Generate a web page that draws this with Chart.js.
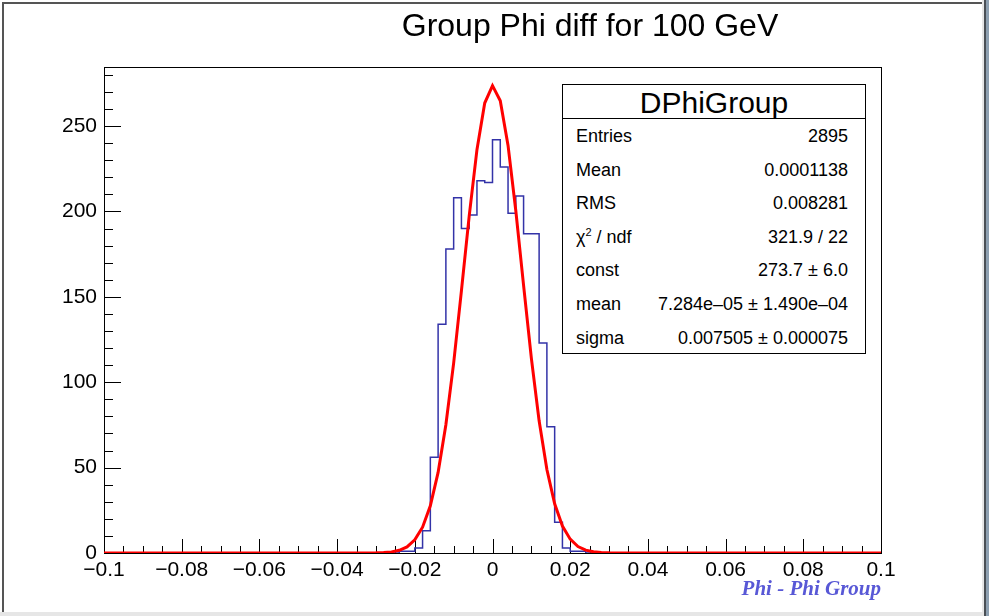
<!DOCTYPE html>
<html>
<head>
<meta charset="utf-8">
<title>Group Phi diff for 100 GeV</title>
<script src="https://cdn.jsdelivr.net/npm/chart.js@4"></script>
<style>
  body { margin: 0; background: #fff; }
  #wrap { position: relative; width: 989px; height: 616px; overflow: hidden; font-family: 'Liberation Sans', Arial, sans-serif; }
  #title { position: absolute; left: 390px; width: 400px; top: 9px; text-align: center; font-size: 32px; line-height: 32px; color: #000; }
  #stats { position: absolute; left: 562px; top: 84px; width: 302px; height: 268px; border: 1px solid #000; background: #fff; }
  #stats .head { height: 33px; border-bottom: 1px solid #000; text-align: center; font-size: 30px; line-height: 35px; }
  #stats .row { position: absolute; left: 13px; right: 17px; height: 20px; line-height: 20px; font-size: 18px; }
  #stats .row .v { position: absolute; right: 0; top: 0; }
  sup { font-size: 11px; vertical-align: 7px; line-height: 0; }
</style>
</head>
<body>
<div id="wrap">
  <canvas id="hist" width="989" height="616"></canvas>
  <div id="title">Group Phi diff for 100 GeV</div>
  <div id="stats"></div>
</div>
<script>
// DPhiGroup histogram (100 bins over -0.1..0.1, only the filled ones listed)
const binEdges = [-0.1, -0.024, -0.022, -0.020, -0.018, -0.016, -0.014, -0.012, -0.010, -0.008, -0.006, -0.004, -0.002,
  0, 0.002, 0.004, 0.006, 0.008, 0.010, 0.012, 0.014, 0.016, 0.018, 0.020, 0.022, 0.024, 0.1];
const binCounts = [0, 1, 1, 3, 13, 56, 134, 178, 208, 190, 198, 218, 217,
  242, 226, 199, 209, 187, 187, 123, 74, 18, 3, 1, 1, 0];

// gaussian fit curve
const fitX = [-0.1, -0.030, -0.028, -0.026, -0.024, -0.022, -0.020, -0.018, -0.016, -0.014, -0.012, -0.010, -0.008, -0.006, -0.004, -0.002,
  0, 0.002, 0.004, 0.006, 0.008, 0.010, 0.012, 0.014, 0.016, 0.018, 0.020, 0.022, 0.024, 0.026, 0.028, 0.030, 0.1];
const fitY = [0, 0.09, 0.25, 0.66, 1.6, 3.6, 7.7, 15.1, 27.6, 47.2, 75.1, 111.2, 153.5, 197.3, 236.2, 263.5,
  273.7, 264.8, 238.7, 200.4, 156.7, 114.1, 77.4, 48.9, 28.8, 15.8, 8.1, 3.8, 1.7, 0.7, 0.27, 0.1, 0];

const statLabels = ['Entries', 'Mean', 'RMS', 'χ<sup>2</sup> / ndf', 'const', 'mean', 'sigma'];
const statValues = ['2895', '0.0001138', '0.008281', '321.9 / 22', '273.7 ± 6.0', '7.284e\u201305 ± 1.490e\u201304', '0.007505 ± 0.000075'];

const X_MIN = -0.1, X_MAX = 0.1, Y_MAX = 284.6;

// stats box
const stats = document.getElementById('stats');
stats.innerHTML = '<div class="head">DPhiGroup</div>' + statLabels.map((l, i) =>
  `<div class="row" style="top:${41 + i * 33.6}px"><span>${l}</span><span class="v">${statValues[i]}</span></div>`).join('');

// each count is held from its low edge to the next edge
const histPts = binCounts.map((c, i) => ({ x: binEdges[i], y: c }));
histPts.push({ x: binEdges[binEdges.length - 1], y: 0 });
const fitPts = fitX.map((x, i) => ({ x, y: fitY[i] }));

const fmtX = v => {
  const n = Number(v.toFixed(3));
  return n < 0 ? '\u2212' + String(-n) : String(n);
};

// ROOT style frame + inward ticks, and the canvas border
const rootFrame = {
  id: 'rootFrame',
  beforeDatasetsDraw(chart) {
    const { ctx, chartArea: a, scales: { x, y } } = chart;
    ctx.save();
    ctx.strokeStyle = '#000';
    ctx.lineWidth = 1;
    ctx.strokeRect(a.left + 0.5, a.top + 0.5, a.right - a.left, a.bottom - a.top);
    ctx.beginPath();
    for (let i = 0; i <= 40; i++) {
      const v = X_MIN + i * 0.005;
      const px = Math.round(x.getPixelForValue(v)) + 0.5;
      const len = i % 4 === 0 ? 14 : 7;
      ctx.moveTo(px, a.bottom);
      ctx.lineTo(px, a.bottom - len);
    }
    for (let v = 0; v <= Y_MAX; v += 10) {
      const py = Math.round(y.getPixelForValue(v)) + 0.5;
      const len = v % 50 === 0 ? 17 : 9;
      ctx.moveTo(a.left, py);
      ctx.lineTo(a.left + len, py);
    }
    ctx.stroke();
    ctx.restore();
  },
  afterDraw(chart) {
    const { ctx } = chart;
    ctx.save();
    ctx.fillStyle = '#555';
    ctx.fillRect(2, 2, 980, 2);
    ctx.fillRect(2, 2, 2, 610);
    ctx.fillStyle = '#e6e6e6';
    ctx.fillRect(982, 0, 2, 616);
    ctx.fillRect(0, 612, 984, 4);
    ctx.fillStyle = '#4a4f55';
    ctx.fillRect(984, 0, 2, 616);
    ctx.fillStyle = '#8d9fb0';
    ctx.fillRect(986, 0, 3, 616);
    ctx.restore();
  }
};

const tickFont = { family: "'Liberation Sans', Arial, sans-serif", size: 21 };

new Chart(document.getElementById('hist'), {
  type: 'line',
  data: {
    datasets: [
      { label: 'fit', data: fitPts, borderColor: '#ff0000', borderWidth: 3, pointRadius: 0, tension: 0, order: 0 },
      { label: 'DPhiGroup', data: histPts, stepped: 'before', borderColor: '#3333a8', borderWidth: 1.5, pointRadius: 0, order: 1 },
    ],
  },
  options: {
    responsive: false,
    animation: false,
    layout: { padding: { top: 67, right: 108, left: 0, bottom: 0 } },
    plugins: { legend: { display: false }, tooltip: { enabled: false } },
    scales: {
      x: {
        type: 'linear', min: X_MIN, max: X_MAX,
        grid: { display: false, drawTicks: false }, border: { display: false },
        ticks: { stepSize: 0.02, padding: 5, color: '#000', font: tickFont, maxRotation: 0, autoSkip: false, callback: fmtX },
        title: {
          display: true, text: 'Phi - Phi Group', align: 'end', color: '#5858d6',
          font: { family: "'Liberation Serif', serif", size: 21, style: 'italic', weight: 'bold' },
          padding: { top: 0, bottom: 14 },
        },
        afterFit: s => { s.height = 63; },
      },
      y: {
        type: 'linear', min: 0, max: Y_MAX,
        grid: { display: false, drawTicks: false }, border: { display: false },
        ticks: { stepSize: 50, padding: 7, color: '#000', font: tickFont },
        afterBuildTicks: s => { s.ticks = s.ticks.filter(t => t.value % 50 === 0); },
        afterFit: s => { s.width = 104; },
      },
    },
  },
  plugins: [rootFrame],
});
</script>
</body>
</html>
